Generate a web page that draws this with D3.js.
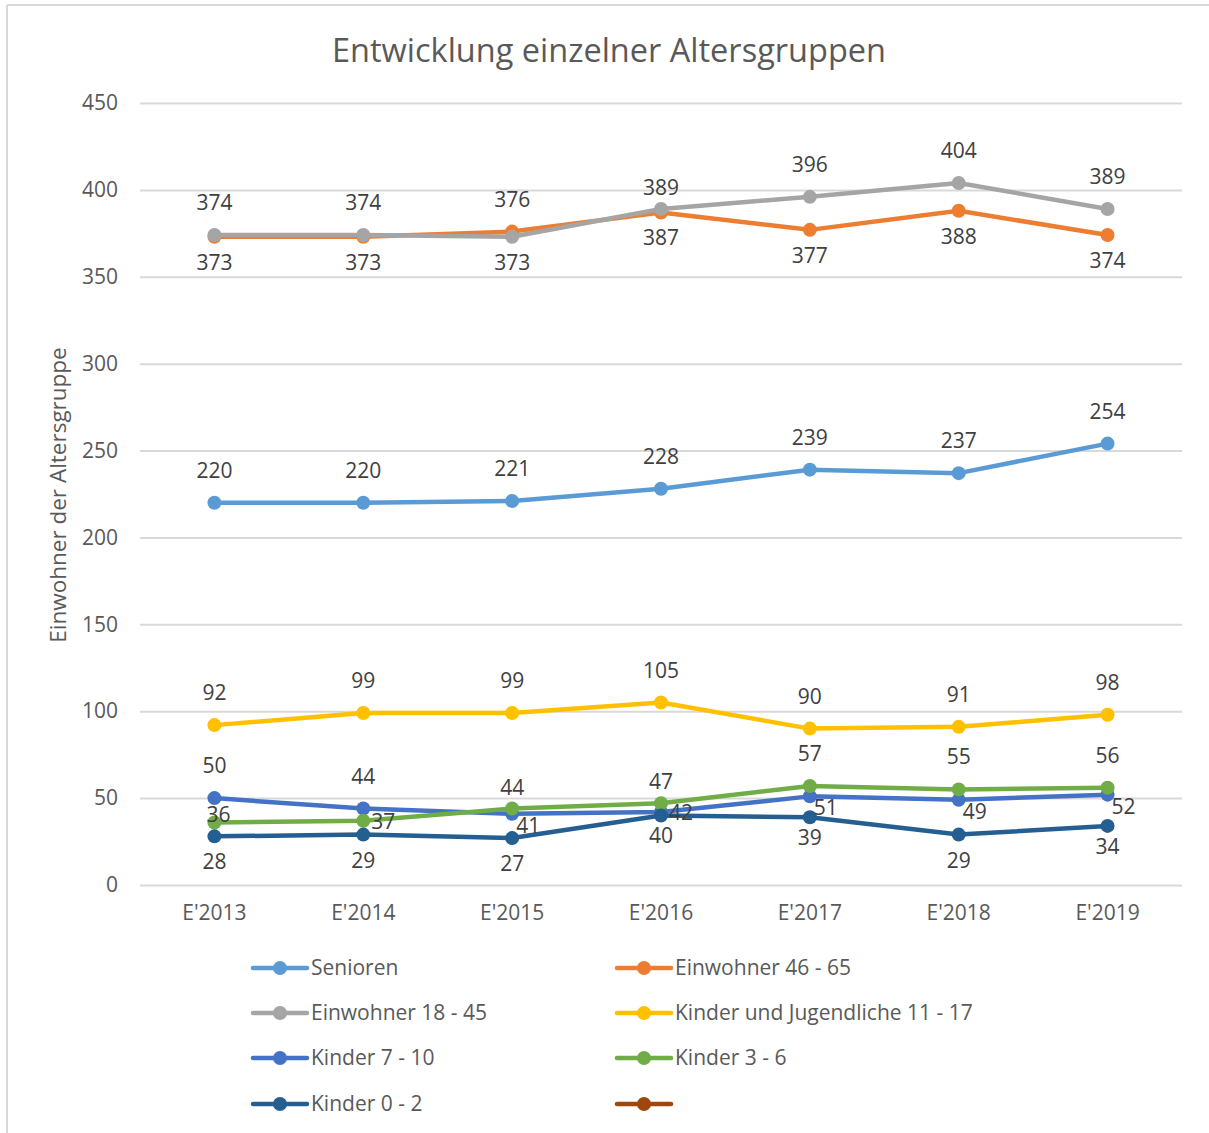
<!DOCTYPE html>
<html>
<head>
<meta charset="utf-8">
<script src="https://cdn.jsdelivr.net/npm/d3@7"></script>
<style>
body { margin: 0; background: #fff; }
svg { display: block; font-family: "Open Sans", sans-serif; }
</style>
</head>
<body>
<svg id="chart" width="1209" height="1133"></svg>
<script>
// chart values
var years = ["E'2013", "E'2014", "E'2015", "E'2016", "E'2017", "E'2018", "E'2019"];
var yTicks = [0, 50, 100, 150, 200, 250, 300, 350, 400, 450];

var senioren = [220, 220, 221, 228, 239, 237, 254];
var einw4665 = [373, 373, 376, 387, 377, 388, 374];
var einw1845 = [374, 374, 373, 389, 396, 404, 389];
var kinder1117 = [92, 99, 99, 105, 90, 91, 98];
var kinder710 = [50, 44, 41, 42, 51, 49, 52];
var kinder36 = [36, 37, 44, 47, 57, 55, 56];
var kinder02 = [28, 29, 27, 40, 39, 29, 34];
var leer = [];

// where each label sits: t = above, t2 = just above, b = below, b2 = just below,
// r = right/below, rr = right, c = on point
var series = [
  {name: "Senioren", values: senioren, color: "#5b9bd5", pos: ["t","t","t","t","t","t","t"]},
  {name: "Einwohner 46 - 65", values: einw4665, color: "#ed7d31", pos: ["b","b","t","b","b","b","b"]},
  {name: "Einwohner 18 - 45", values: einw1845, color: "#a5a5a5", pos: ["t","t","b","t2","t","t","t"]},
  {name: "Kinder und Jugendliche 11 - 17", values: kinder1117, color: "#ffc000", pos: ["t","t","t","t","t","t","t"]},
  {name: "Kinder 7 - 10", values: kinder710, color: "#4472c4", pos: ["t","t","r","rr","r","r","r"]},
  {name: "Kinder 3 - 6", values: kinder36, color: "#70ad47", pos: ["c","rr","t2","t2","t","t","t"]},
  {name: "Kinder 0 - 2", values: kinder02, color: "#255e91", pos: ["b","b","b","b2","b2","b","b2"]},
  {name: "", values: leer, color: "#9e480e", pos: []}
];

var svg = d3.select("#chart");
var textColor = "#595959";

// frame
svg.append("line").attr("x1", 7).attr("x2", 7).attr("y1", 5).attr("y2", 1133)
  .style("stroke", "#d9d9d9").style("stroke-width", 2);
svg.append("line").attr("x1", 7).attr("x2", 1209).attr("y1", 5).attr("y2", 5)
  .style("stroke", "#d9d9d9").style("stroke-width", 2);

var x = d3.scaleBand().domain(years).range([140, 1182]);
var y = d3.scaleLinear().domain([0, 450]).range([885, 103]);

// title
svg.append("text").attr("x", 609).attr("y", 62).attr("text-anchor", "middle")
  .style("font-size", "32.5px").style("fill", textColor)
  .text("Entwicklung einzelner Altersgruppen");

// grid + y axis
var yAxis = d3.axisLeft(y).tickValues(yTicks).tickSize(-(1182 - 140)).tickPadding(22);
var gy = svg.append("g").attr("transform", "translate(140,0)").call(yAxis);
gy.select(".domain").remove();
gy.selectAll(".tick line").style("stroke", "#d9d9d9").style("stroke-width", 2);
gy.selectAll(".tick text").style("font-size", "21px").style("fill", textColor)
  .attr("font-family", "Open Sans");

// x axis labels
var xAxis = d3.axisBottom(x).tickSize(0).tickPadding(20);
var gx = svg.append("g").attr("transform", "translate(0,885)").call(xAxis);
gx.select(".domain").remove();
gx.selectAll(".tick text").style("font-size", "21px").style("fill", textColor)
  .attr("font-family", "Open Sans");

// y axis title
svg.append("text").attr("transform", "translate(66,495) rotate(-90)")
  .attr("text-anchor", "middle").style("font-size", "22.5px").style("fill", textColor)
  .text("Einwohner der Altersgruppe");

var lineFunction = d3.line()
  .x(function (d, i) { return x(years[i]) + x.bandwidth() / 2; })
  .y(function (d) { return y(d); });

// lines + markers, first series drawn first
series.forEach(function (s) {
  if (!s.values.length) return;
  var g = svg.append("g");
  g.append("path").attr("d", lineFunction(s.values))
    .attr("fill", "none").style("stroke", s.color).style("stroke-width", 4.5)
    .style("stroke-linejoin", "round");
  g.selectAll("circle").data(s.values).enter().append("circle")
    .attr("cx", function (d, i) { return x(years[i]) + x.bandwidth() / 2; })
    .attr("cy", function (d) { return y(d); })
    .attr("r", 7).attr("fill", s.color);
});

// data labels
var offsets = {
  t: [0, -25], t2: [0, -14], b: [0, 33], b2: [0, 28], r: [16, 19], rr: [20, 8], c: [4, 0]
};
series.forEach(function (s) {
  svg.append("g").selectAll("text").data(s.values).enter().append("text")
    .attr("x", function (d, i) { return x(years[i]) + x.bandwidth() / 2 + offsets[s.pos[i]][0]; })
    .attr("y", function (d, i) { return y(d) + offsets[s.pos[i]][1]; })
    .attr("text-anchor", "middle")
    .style("font-size", "21px").style("fill", "#404040")
    .text(function (d) { return d; });
});

// legend
var legendCols = [253, 617];
var legendRows = [968, 1013, 1058, 1104];
var legend = svg.append("g").selectAll("g").data(series).enter().append("g")
  .attr("transform", function (d, i) {
    return "translate(" + legendCols[i % 2] + "," + legendRows[Math.floor(i / 2)] + ")";
  });
legend.append("line").attr("x1", 0).attr("x2", 54).attr("y1", 0).attr("y2", 0)
  .style("stroke", function (d) { return d.color; }).style("stroke-width", 4.5)
  .style("stroke-linecap", "round");
legend.append("circle").attr("cx", 27).attr("cy", 0).attr("r", 7)
  .attr("fill", function (d) { return d.color; });
legend.append("text").attr("x", 58).attr("y", 7)
  .style("font-size", "21px").style("fill", textColor)
  .text(function (d) { return d.name; });
</script>
</body>
</html>
